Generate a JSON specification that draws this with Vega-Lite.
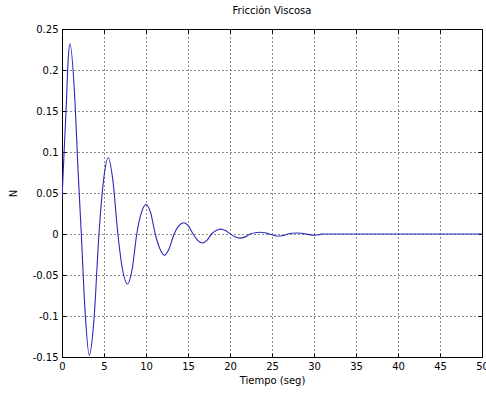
{
  "$schema": "https://vega.github.io/schema/vega-lite/v6.json",
  "autosize": "none",
  "width": 420,
  "height": 328,
  "padding": {"left": 62, "top": 29, "right": 4, "bottom": 39},
  "background": "white",
  "title": {"text": "Fricción Viscosa", "font": "DejaVu Sans", "fontSize": 10, "fontWeight": "normal", "color": "black", "anchor": "middle", "baseline": "alphabetic", "offset": 13, "dy": 13},
  "config": {
    "view": {"stroke": "black", "strokeWidth": 1},
    "axis": {"labelFont": "DejaVu Sans", "labelFontSize": 10, "labelColor": "black", "titleFont": "DejaVu Sans", "titleFontSize": 10, "titleFontWeight": "normal", "titleColor": "black", "domainColor": "black", "tickColor": "black", "tickSize": -4, "labelPadding": 8, "gridColor": "black", "gridDash": [1, 3], "gridOpacity": 0.9}
  },
  "data": {"values": [
    {"t": 0, "v": 0.042},
    {"t": 0.25, "v": 0.10},
    {"t": 0.5, "v": 0.155},
    {"t": 0.75, "v": 0.215},
    {"t": 0.95, "v": 0.232},
    {"t": 1.5, "v": 0.17},
    {"t": 1.9, "v": 0.08},
    {"t": 2.3, "v": 0},
    {"t": 2.75, "v": -0.095},
    {"t": 3.25, "v": -0.148},
    {"t": 3.8, "v": -0.105},
    {"t": 4.4, "v": 0},
    {"t": 4.95, "v": 0.066},
    {"t": 5.5, "v": 0.093},
    {"t": 6.05, "v": 0.066},
    {"t": 6.65, "v": 0},
    {"t": 7.2, "v": -0.043},
    {"t": 7.8, "v": -0.061},
    {"t": 8.35, "v": -0.043},
    {"t": 8.9, "v": 0},
    {"t": 9.45, "v": 0.026},
    {"t": 10.0, "v": 0.036},
    {"t": 10.55, "v": 0.026},
    {"t": 11.1, "v": 0},
    {"t": 11.65, "v": -0.018},
    {"t": 12.2, "v": -0.026},
    {"t": 12.75, "v": -0.018},
    {"t": 13.35, "v": 0},
    {"t": 13.9, "v": 0.0098},
    {"t": 14.5, "v": 0.0138},
    {"t": 15.05, "v": 0.0098},
    {"t": 15.6, "v": 0},
    {"t": 16.15, "v": -0.0078},
    {"t": 16.7, "v": -0.011},
    {"t": 17.25, "v": -0.0078},
    {"t": 17.8, "v": 0},
    {"t": 18.35, "v": 0.0042},
    {"t": 18.9, "v": 0.006},
    {"t": 19.45, "v": 0.0042},
    {"t": 20.05, "v": 0},
    {"t": 20.6, "v": -0.0035},
    {"t": 21.2, "v": -0.005},
    {"t": 21.8, "v": -0.0035},
    {"t": 22.4, "v": 0},
    {"t": 23.0, "v": 0.0016},
    {"t": 23.6, "v": 0.0022},
    {"t": 24.15, "v": 0.0016},
    {"t": 24.7, "v": 0},
    {"t": 25.25, "v": -0.0018},
    {"t": 25.8, "v": -0.0025},
    {"t": 26.35, "v": -0.0018},
    {"t": 26.9, "v": 0},
    {"t": 27.45, "v": 0.0009},
    {"t": 28.0, "v": 0.0013},
    {"t": 28.5, "v": 0.0009},
    {"t": 29.05, "v": 0},
    {"t": 29.6, "v": -0.0011},
    {"t": 30.1, "v": -0.0015},
    {"t": 30.6, "v": -0.0008},
    {"t": 31.0, "v": 0},
    {"t": 35, "v": 0},
    {"t": 40, "v": 0},
    {"t": 45, "v": 0},
    {"t": 50, "v": 0}
  ]},
  "layer": [
    {
      "mark": {"type": "line", "color": "#2a2ab8", "strokeWidth": 1.1, "interpolate": "monotone", "clip": true},
      "encoding": {
        "x": {"field": "t", "type": "quantitative", "scale": {"domain": [0, 50], "nice": false, "zero": false},
          "axis": {"orient": "bottom", "title": "Tiempo (seg)", "values": [0, 5, 10, 15, 20, 25, 30, 35, 40, 45, 50], "labelExpr": "'' + datum.value", "grid": true, "titlePadding": 4, "labelFlush": false}},
        "y": {"field": "v", "type": "quantitative", "scale": {"domain": [-0.15, 0.25], "nice": false, "zero": false},
          "axis": {"orient": "left", "title": "N", "values": [-0.15, -0.1, -0.05, 0, 0.05, 0.1, 0.15, 0.2, 0.25], "labelExpr": "'' + datum.value", "grid": true, "titleX": -49, "titleY": 164, "titleAngle": -90, "titleAlign": "center", "titleBaseline": "middle", "labelFlush": false}}
      }
    },
    {
      "mark": {"type": "line", "opacity": 0},
      "encoding": {
        "x": {"field": "t", "type": "quantitative", "scale": {"domain": [0, 50], "nice": false, "zero": false},
          "axis": {"orient": "top", "title": null, "labels": false, "values": [0, 5, 10, 15, 20, 25, 30, 35, 40, 45, 50], "grid": false}},
        "y": {"field": "v", "type": "quantitative", "scale": {"domain": [-0.15, 0.25], "nice": false, "zero": false},
          "axis": {"orient": "right", "title": null, "labels": false, "values": [-0.15, -0.1, -0.05, 0, 0.05, 0.1, 0.15, 0.2, 0.25], "grid": false}}
      }
    }
  ],
  "resolve": {"axis": {"x": "independent", "y": "independent"}}
}
